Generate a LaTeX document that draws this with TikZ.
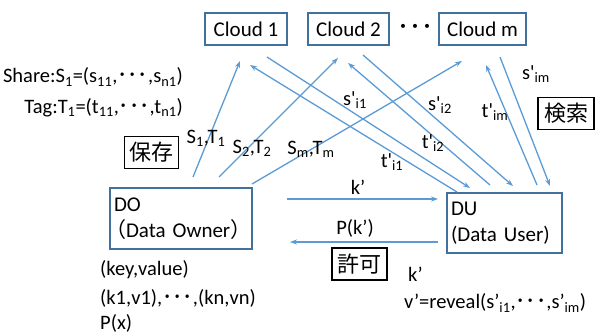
\documentclass[tikz,border=0pt]{standalone}
\usepackage{fontspec}
\setmainfont{Carlito}
\newfontfamily\jp{Noto Sans CJK JP}
\usetikzlibrary{arrows.meta}
\definecolor{lineblue}{RGB}{91,155,213}
\definecolor{boxblue}{RGB}{65,113,156}
\newcommand\lsb[1]{\textsubscript{#1}}
\newcommand\dts{{\jp ･･･}}
\newcommand\ap{\textquotesingle}
\tikzset{
  txt/.style={inner sep=0pt, font=\fontsize{20.5}{25}\selectfont},
  cbox/.style={draw=boxblue, line width=1.6pt, inner sep=0pt, minimum height=32pt, font=\fontsize{21}{25}\selectfont},
  pbox/.style={draw=boxblue, line width=1.6pt, inner sep=4pt, align=left, font=\fontsize{21}{26}\selectfont},
  jbox/.style={draw=black, line width=1.8pt, inner sep=0pt, minimum width=54pt, minimum height=32pt, font=\jp\fontsize{22}{24}\selectfont},
  arr/.style={draw=lineblue, line width=1.3pt, -{Stealth[length=7pt,width=5pt]}},
}
\begin{document}
\begin{tikzpicture}[x=1pt,y=-1pt]
\useasboundingbox (0,0) rectangle (603,336);
% clouds
\node[cbox, minimum width=82pt] (c1) at (246,29) {Cloud 1};
\node[cbox, minimum width=81pt] (c2) at (348.5,29) {Cloud 2};
\node[cbox, minimum width=87pt] (cm) at (482.5,29) {Cloud m};
\node[txt] (cdots) at (415,30) {{\jp\fontsize{24}{26}\selectfont ･･･}};
% owner / user
\node[pbox, minimum width=142pt, minimum height=61pt, text width=134pt] (do) at (181,218.5) {DO\\\mbox{\hspace*{-9pt}{\jp （}Data Owner{\jp ）}}};
\node[pbox, minimum width=115pt, minimum height=60pt, text width=107pt] (du) at (504.5,223) {DU\\\mbox{(Data User)}};
% japanese boxes
\node[jbox] (hozon) at (151.5,152.5) {保存};
\node[jbox, minimum width=56pt] (kensaku) at (566,113.5) {検索};
\node[jbox, minimum width=55pt] (kyoka) at (359.5,264) {許可};
% coordinates
\coordinate (a1s) at (193,177); \coordinate (a1e) at (240,61);
\coordinate (a2s) at (219,177); \coordinate (a2e) at (338,58);
\coordinate (a3s) at (252,184); \coordinate (a3e) at (462,61);
\coordinate (b1s) at (267,57);  \coordinate (b1e) at (470,188);
\coordinate (d1s) at (457,192); \coordinate (d1e) at (250,65);
\coordinate (b2s) at (363,55);  \coordinate (b2e) at (513,186);
\coordinate (d2s) at (490,185); \coordinate (d2e) at (348,63);
\coordinate (b3s) at (500,57);  \coordinate (b3e) at (550,186);
\coordinate (d3s) at (537,185); \coordinate (d3e) at (486,65);
\coordinate (ks) at (287,199);  \coordinate (ke) at (438,199);
\coordinate (ps) at (438,242);  \coordinate (pe) at (290,242);
\draw[arr] (a1s) -- (a1e);
\draw[arr] (a2s) -- (a2e);
\draw[arr] (a3s) -- (a3e);
\draw[arr] (b1s) -- (b1e);
\draw[arr] (d1s) -- (d1e);
\draw[arr] (b2s) -- (b2e);
\draw[arr] (d2s) -- (d2e);
\draw[arr] (b3s) -- (b3e);
\draw[arr] (d3s) -- (d3e);
\draw[arr] (ks) -- (ke);
\draw[arr] (ps) -- (pe);
% labels
\node[txt, anchor=east] (share) at (183,77) {Share:S\lsb{1}=(s\lsb{11},\dts,s\lsb{n1})};
\node[txt, anchor=east] (tag) at (183,108) {Tag:T\lsb{1}=(t\lsb{11},\dts,t\lsb{n1})};
\node[txt] (l1) at (206,138) {S\lsb{1},T\lsb{1}};
\node[txt] (l2) at (252,148) {S\lsb{2},T\lsb{2}};
\node[txt] (l3) at (311,149) {S\lsb{m},T\lsb{m}};
\node[txt] (si1) at (355,100) {s\ap\lsb{i1}};
\node[txt] (si2) at (440,105) {s\ap\lsb{i2}};
\node[txt] (tim) at (495,112) {t\ap\lsb{im}};
\node[txt] (sim) at (536,74) {s\ap\lsb{im}};
\node[txt] (ti2) at (433,143) {t\ap\lsb{i2}};
\node[txt] (ti1) at (392,162) {t\ap\lsb{i1}};
\node[txt] (kl) at (358,187) {k’};
\node[txt] (pl) at (355,228) {P(k’)};
\node[txt, anchor=west] (k2) at (408,274) {k’};
\node[txt, anchor=west] (rev) at (404,303) {v’=reveal(s’\lsb{i1},\dts,s’\lsb{im})};
\node[txt, anchor=west] (kv) at (100,270) {(key,value)};
\node[txt, anchor=west] (kvs) at (100,298) {(k1,v1),\dts,(kn,vn)};
\node[txt, anchor=west] (px) at (100,323) {P(x)};
\end{tikzpicture}
\end{document}
